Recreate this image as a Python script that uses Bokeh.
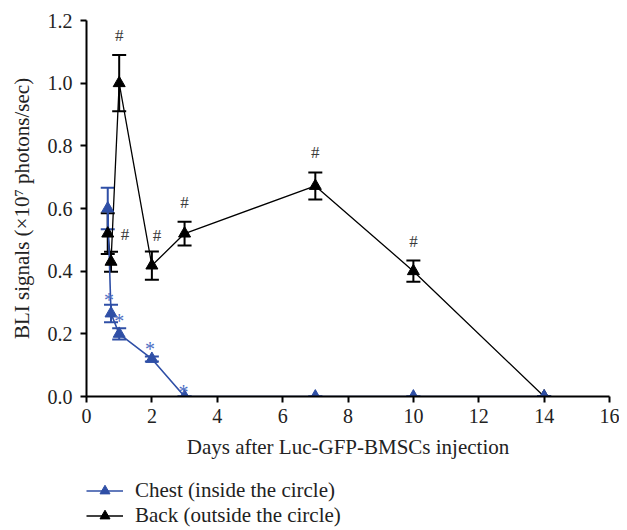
from bokeh.plotting import figure
from bokeh.layouts import column
from bokeh.models import (Range1d, ColumnDataSource, Whisker, TeeHead, Legend, LegendItem,
                          PrintfTickFormatter, FixedTicker)
from bokeh.core.properties import value
from bokeh.embed import file_html
from bokeh.resources import INLINE

# ---- data ----
days = [0.65, 0.75, 1, 2, 3, 7, 10, 14]
chest = [0.60, 0.265, 0.20, 0.12, 0.0, 0.0, 0.0, 0.0]
chest_err = [0.066, 0.028, 0.018, 0.008, 0.0, 0.0, 0.0, 0.0]
back = [0.52, 0.43, 1.00, 0.418, 0.52, 0.672, 0.40, 0.0]
back_err = [0.065, 0.032, 0.09, 0.045, 0.038, 0.043, 0.034, 0.0]

hash_days = [0.75, 1, 2, 3, 7, 10]
star_days = [0.75, 1, 2, 3]

x_ticks = [0, 2, 4, 6, 8, 10, 12, 14, 16]
y_ticks = [0.0, 0.2, 0.4, 0.6, 0.8, 1.0, 1.2]

series_labels = ["Chest (inside the circle)", "Back (outside the circle)"]

BLUE = "#2f4fa6"
STAR_BLUE = "#4d6ec4"
FONT = "Liberation Serif"

p = figure(output_backend="svg", toolbar_location=None,
           x_range=Range1d(0, 16), y_range=Range1d(0, 1.2),
           frame_width=523, frame_height=376,
           min_border_left=86, min_border_right=10, min_border_top=20, min_border_bottom=66)
p.outline_line_color = None
p.xgrid.visible = False
p.ygrid.visible = False
p.background_fill_color = "white"

for ax in (p.xaxis[0], p.yaxis[0]):
    ax.axis_line_width = 2
    ax.axis_line_color = "black"
    ax.major_tick_line_width = 2
    ax.major_tick_line_color = "black"
    ax.major_tick_in = 0
    ax.major_tick_out = 6
    ax.minor_tick_line_color = None
    ax.major_label_text_font = FONT
    ax.major_label_text_font_size = "20px"
    ax.major_label_text_color = "#222222"
    ax.axis_label_text_font = FONT
    ax.axis_label_text_font_size = "21px"
    ax.axis_label_text_font_style = "normal"
    ax.axis_label_text_color = "#222222"

p.xaxis.ticker = FixedTicker(ticks=x_ticks)
p.yaxis.ticker = FixedTicker(ticks=y_ticks)
p.yaxis.formatter = PrintfTickFormatter(format="%.1f")
p.xaxis.axis_label = "Days after Luc-GFP-BMSCs injection"
p.yaxis.axis_label = "BLI signals (×10⁷ photons/sec)"
p.xaxis.major_label_standoff = 6
p.yaxis.major_label_standoff = 8
p.xaxis.axis_label_standoff = 9
p.yaxis.axis_label_standoff = 11

src_c = ColumnDataSource(dict(x=days, y=chest,
                              up=[a + b for a, b in zip(chest, chest_err)],
                              lo=[a - b for a, b in zip(chest, chest_err)]))
src_b = ColumnDataSource(dict(x=days, y=back,
                              up=[a + b for a, b in zip(back, back_err)],
                              lo=[a - b for a, b in zip(back, back_err)]))

# lines
p.line("x", "y", source=src_b, line_color="black", line_width=1.3)
p.line("x", "y", source=src_c, line_color=BLUE, line_width=1.6)

# error bars
for src, col in ((src_b, "black"), (src_c, BLUE)):
    w = Whisker(base="x", upper="up", lower="lo", source=src, line_color=col, line_width=2,
                upper_head=TeeHead(size=14, line_color=col, line_width=2),
                lower_head=TeeHead(size=14, line_color=col, line_width=2))
    p.add_layout(w)

p.scatter("x", "y", source=src_b, marker="triangle", size=12, color="black")
p.scatter("x", "y", source=src_c, marker="triangle", size=12, color=BLUE)

# significance marks
hash_src = ColumnDataSource(dict(
    x=hash_days,
    y=[back[days.index(d)] + back_err[days.index(d)] for d in hash_days],
    xo=[14, 0, 5, 0, 0, 0],
    yo=[-8, -10, -6, -10, -10, -10]))
p.text("x", "y", text=value("#"), source=hash_src, x_offset="xo", y_offset="yo",
       text_font=value(FONT), text_font_size="17px", text_color="#3a3a3a",
       text_align="center", text_baseline="bottom")

star_src = ColumnDataSource(dict(
    x=star_days,
    y=[chest[days.index(d)] + chest_err[days.index(d)] for d in star_days],
    xo=[-2, 0, -2, -1],
    yo=[6, 4, 4, 6]))
p.text("x", "y", text=value("*"), source=star_src, x_offset="xo", y_offset="yo",
       text_font=value(FONT), text_font_size="20px", text_color=STAR_BLUE,
       text_align="center", text_baseline="bottom")

# ---- legend panel below the chart (same series, ranges chosen so no data is in view) ----
q = figure(output_backend="svg", toolbar_location=None,
           frame_width=619, frame_height=66,
           min_border_left=0, min_border_right=0, min_border_top=0, min_border_bottom=0,
           x_range=Range1d(100, 101), y_range=Range1d(100, 101))
q.axis.visible = False
q.xgrid.visible = False
q.ygrid.visible = False
q.outline_line_color = None
lc = q.line("x", "y", source=src_c, line_color=BLUE, line_width=1.6)
sc = q.scatter("x", "y", source=src_c, marker="triangle", size=12, color=BLUE)
lb = q.line("x", "y", source=src_b, line_color="black", line_width=1.6)
sb = q.scatter("x", "y", source=src_b, marker="triangle", size=12, color="black")

legend = Legend(items=[LegendItem(label=series_labels[0], renderers=[lc, sc]),
                       LegendItem(label=series_labels[1], renderers=[lb, sb])],
                location=(86, 0), orientation="vertical",
                border_line_color=None, background_fill_alpha=0,
                label_text_font=FONT, label_text_font_size="21px", label_text_color="#222222",
                glyph_width=37, glyph_height=25, label_height=25, spacing=0, padding=0,
                label_standoff=12, margin=0)
q.add_layout(legend)

open("out.html", "w").write(file_html(column(p, q, spacing=0), INLINE))
